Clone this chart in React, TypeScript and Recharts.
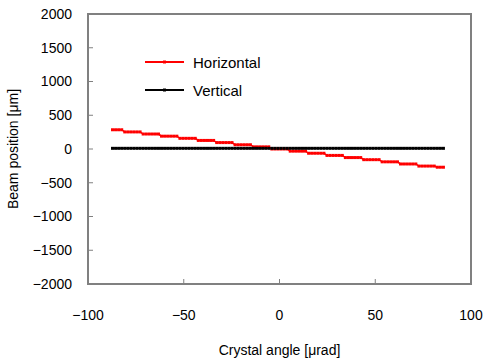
import React from 'react'
import { LineChart, Line, XAxis, YAxis, ReferenceArea } from 'recharts'

// Crystal angle [μrad]
const ANGLES = [
  -87.2, -85.6, -84.0, -82.4, -80.8, -79.2, -77.6, -76.0, -74.4, -72.8,
  -71.2, -69.6, -68.0, -66.4, -64.8, -63.2, -61.6, -60.0, -58.4, -56.8,
  -55.2, -53.6, -52.0, -50.4, -48.8, -47.2, -45.6, -44.0, -42.4, -40.8,
  -39.2, -37.6, -36.0, -34.4, -32.8, -31.2, -29.6, -28.0, -26.4, -24.8,
  -23.2, -21.6, -20.0, -18.4, -16.8, -15.2, -13.6, -12.0, -10.4, -8.8,
  -7.2, -5.6, -4.0, -2.4, -0.8, 0.8, 2.4, 4.0, 5.6, 7.2,
  8.8, 10.4, 12.0, 13.6, 15.2, 16.8, 18.4, 20.0, 21.6, 23.2,
  24.8, 26.4, 28.0, 29.6, 31.2, 32.8, 34.4, 36.0, 37.6, 39.2,
  40.8, 42.4, 44.0, 45.6, 47.2, 48.8, 50.4, 52.0, 53.6, 55.2,
  56.8, 58.4, 60.0, 61.6, 63.2, 64.8, 66.4, 68.0, 69.6, 71.2,
  72.8, 74.4, 76.0, 77.6, 79.2, 80.8, 82.4, 84.0, 85.6,
]

// Beam position [μm]
const HORIZONTAL = [
  285, 285, 285, 285, 253, 253, 253, 253, 253, 253,
  222, 222, 222, 222, 222, 222, 190, 190, 190, 190,
  190, 190, 158, 158, 158, 158, 158, 158, 127, 127,
  127, 127, 127, 127, 95, 95, 95, 95, 95, 95,
  63, 63, 63, 63, 63, 63, 32, 32, 32, 32,
  32, 32, 0, 0, 0, 0, 0, 0, -32, -32,
  -32, -32, -32, -32, -63, -63, -63, -63, -63, -63,
  -95, -95, -95, -95, -95, -95, -127, -127, -127, -127,
  -127, -127, -158, -158, -158, -158, -158, -158, -190, -190,
  -190, -190, -190, -190, -222, -222, -222, -222, -222, -222,
  -253, -253, -253, -253, -253, -253, -270, -270, -270,
]

const VERTICAL = [
  10, 10, 10, 10, 10, 10, 10, 10, 10, 10,
  10, 10, 10, 10, 10, 10, 10, 10, 10, 10,
  10, 10, 10, 10, 10, 10, 10, 10, 10, 10,
  10, 10, 10, 10, 10, 10, 10, 10, 10, 10,
  10, 10, 10, 10, 10, 10, 10, 10, 10, 10,
  10, 10, 10, 10, 10, 10, 10, 10, 10, 10,
  10, 10, 10, 10, 10, 10, 10, 10, 10, 10,
  10, 10, 10, 10, 10, 10, 10, 10, 10, 10,
  10, 10, 10, 10, 10, 10, 10, 10, 10, 10,
  10, 10, 10, 10, 10, 10, 10, 10, 10, 10,
  10, 10, 10, 10, 10, 10, 10, 10, 10,
]

const X_TICKS = [-100, -50, 0, 50, 100]
const Y_TICKS = [-2000, -1500, -1000, -500, 0, 500, 1000, 1500, 2000]

const SERIES = [
  { key: 'horizontal', name: 'Horizontal', color: '#ff0000' },
  { key: 'vertical', name: 'Vertical', color: '#000000' },
]

const data = ANGLES.map((a, i) => ({
  angle: a,
  horizontal: HORIZONTAL[i],
  vertical: VERTICAL[i],
}))

const FONT = '"Liberation Sans", Arial, sans-serif'
const fmt = (v: number) => String(v).replace('-', '−')

const squareDot = (color: string) => (props: any) => {
  const { cx, cy, index } = props
  if (cx == null || cy == null) return <g key={index} />
  return <rect key={index} x={cx - 1.5} y={cy - 1.5} width={3} height={3} fill={color} />
}

// legend sits inside the plot, drawn as an overlay so it doesn't shrink the plot
const LegendBox = () => (
  <div style={{ position: 'absolute', left: 145, top: 48, fontFamily: FONT, fontSize: 15, color: '#000' }}>
    {SERIES.map((s) => (
      <div key={s.key} style={{ display: 'flex', alignItems: 'center', height: 28 }}>
        <svg width={40} height={8} style={{ marginRight: 8 }}>
          <line x1={0} y1={4} x2={39} y2={4} stroke={s.color} strokeWidth={2} />
          <rect x={18} y={2.5} width={3} height={3} fill={s.color} />
        </svg>
        <span>{s.name}</span>
      </div>
    ))}
  </div>
)

export default function App() {
  return (
    <div style={{ position: 'absolute', left: 0, top: 0, width: 485, height: 358, background: '#fff' }}>
      <LineChart width={485} height={358} data={data} margin={{ top: 14, right: 14, left: 0, bottom: 0 }}>
        <ReferenceArea
          x1={-100}
          x2={100}
          y1={-2000}
          y2={2000}
          fill="none"
          stroke="#808080"
          strokeWidth={2}
          ifOverflow="visible"
        />
        <XAxis
          dataKey="angle"
          type="number"
          domain={[-100, 100]}
          ticks={X_TICKS}
          tickFormatter={fmt}
          height={74}
          axisLine={{ stroke: '#808080', strokeWidth: 2 }}
          tickLine={{ stroke: '#808080' }}
          tickSize={-5}
          tickMargin={31}
          tick={{ fill: '#000', fontSize: 14, fontFamily: FONT }}
          label={{ value: 'Crystal angle [μrad]', position: 'insideBottom', offset: 3, fill: '#000', fontSize: 14, fontFamily: FONT }}
        />
        <YAxis
          type="number"
          domain={[-2000, 2000]}
          ticks={Y_TICKS}
          tickFormatter={fmt}
          width={88}
          axisLine={{ stroke: '#808080', strokeWidth: 2 }}
          tickLine={{ stroke: '#808080' }}
          tickSize={-5}
          tickMargin={21}
          tick={{ fill: '#000', fontSize: 14, fontFamily: FONT }}
          label={{ value: 'Beam position [μm]', angle: -90, position: 'insideLeft', offset: 13, style: { textAnchor: 'middle' }, fill: '#000', fontSize: 14, fontFamily: FONT }}
        />
        {SERIES.map((s) => (
          <Line
            key={s.key}
            dataKey={s.key}
            name={s.name}
            stroke={s.color}
            strokeWidth={1.5}
            dot={squareDot(s.color)}
            activeDot={false}
            isAnimationActive={false}
          />
        ))}
      </LineChart>
      <LegendBox />
    </div>
  )
}
